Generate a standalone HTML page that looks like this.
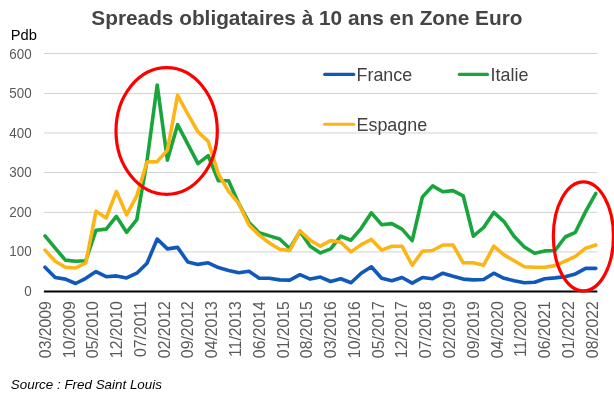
<!DOCTYPE html>
<html><head><meta charset="utf-8"><style>
html,body{margin:0;padding:0;background:#fff;}
svg{display:block;font-family:"Liberation Sans",Arial,sans-serif;}
</style></head><body>
<svg width="614" height="405" viewBox="0 0 614 405">
<rect width="614" height="405" fill="#fff"/>
<text transform="translate(306.90,24.80)" font-size="20.8" text-anchor="middle" font-weight="bold" fill="#444444">Spreads obligataires à 10 ans en Zone Euro</text>
<text transform="translate(10.80,39.80) scale(1.020,1)" font-size="14.4" text-anchor="start" fill="#000">Pdb</text>
<g stroke="#d2d2d2" stroke-width="1" fill="none">
<line x1="44" x2="597.3" y1="251.90" y2="251.90"/>
<line x1="44" x2="597.3" y1="212.40" y2="212.40"/>
<line x1="44" x2="597.3" y1="172.55" y2="172.55"/>
<line x1="44" x2="597.3" y1="132.95" y2="132.95"/>
<line x1="44" x2="597.3" y1="93.45" y2="93.45"/>
<line x1="44" x2="597.3" y1="53.50" y2="53.50"/>
</g>
<g fill="#595959">
<text transform="translate(31.60,296.00) scale(0.917,1)" font-size="14.6" text-anchor="end">0</text>
<text transform="translate(31.60,256.48) scale(0.917,1)" font-size="14.6" text-anchor="end">100</text>
<text transform="translate(31.60,216.96) scale(0.917,1)" font-size="14.6" text-anchor="end">200</text>
<text transform="translate(31.60,177.44) scale(0.917,1)" font-size="14.6" text-anchor="end">300</text>
<text transform="translate(31.60,137.92) scale(0.917,1)" font-size="14.6" text-anchor="end">400</text>
<text transform="translate(31.60,98.40) scale(0.917,1)" font-size="14.6" text-anchor="end">500</text>
<text transform="translate(31.60,58.88) scale(0.917,1)" font-size="14.6" text-anchor="end">600</text>
</g>
<g fill="none" stroke-width="3.6" stroke-linejoin="round" stroke-linecap="round">
<polyline stroke="#1058b9" points="45.0,267.2 55.2,277.5 65.4,279.1 75.6,283.5 85.8,278.3 96.0,271.6 106.2,276.7 116.4,275.9 126.6,277.9 136.8,273.2 147.0,263.2 157.2,239.0 167.4,248.9 177.6,247.4 187.8,262.0 198.0,264.4 208.2,262.8 218.4,267.6 228.6,270.4 238.8,272.8 249.0,271.2 259.2,278.3 269.4,278.3 279.6,279.9 289.8,280.1 300.0,274.7 310.2,279.1 320.4,277.1 330.6,281.5 340.8,278.7 351.0,282.7 361.2,273.2 371.4,266.8 381.6,278.3 391.8,280.7 402.0,277.5 412.2,283.1 422.4,277.5 432.6,278.7 442.8,273.2 453.0,276.3 463.2,279.1 473.4,279.9 483.6,279.5 493.8,273.2 504.0,278.3 514.2,280.7 524.4,282.7 534.6,282.3 544.8,278.7 555.0,277.9 565.2,276.7 575.4,273.9 585.6,268.4 595.8,268.4"/>
<polyline stroke="#17a53c" points="45.0,235.9 55.2,248.2 65.4,260.1 75.6,261.2 85.8,260.7 96.0,230.3 106.2,229.1 116.4,216.4 126.6,232.3 136.8,219.6 147.0,160.9 157.2,85.1 167.4,160.1 177.6,124.7 187.8,144.2 198.0,163.6 208.2,155.7 218.4,180.7 228.6,180.7 238.8,203.7 249.0,222.4 259.2,232.7 269.4,235.9 279.6,239.0 289.8,248.5 300.0,231.5 310.2,246.2 320.4,252.9 330.6,248.9 340.8,236.2 351.0,240.2 361.2,228.3 371.4,212.8 381.6,224.7 391.8,223.6 402.0,229.1 412.2,240.6 422.4,197.0 432.6,185.9 442.8,191.8 453.0,190.6 463.2,195.8 473.4,236.2 483.6,227.5 493.8,212.4 504.0,221.6 514.2,236.6 524.4,247.0 534.6,253.3 544.8,250.9 555.0,250.5 565.2,237.0 575.4,232.3 585.6,211.6 595.8,193.4"/>
<polyline stroke="#fdb515" points="45.0,250.1 55.2,261.2 65.4,267.2 75.6,268.0 85.8,262.8 96.0,211.2 106.2,218.0 116.4,191.4 126.6,214.8 136.8,195.8 147.0,162.0 157.2,161.6 167.4,150.1 177.6,95.4 187.8,114.0 198.0,131.9 208.2,141.4 218.4,174.0 228.6,191.4 238.8,203.7 249.0,225.1 259.2,235.1 269.4,243.0 279.6,249.3 289.8,250.5 300.0,230.7 310.2,240.2 320.4,246.2 330.6,240.6 340.8,242.2 351.0,251.9 361.2,244.6 371.4,239.4 381.6,250.1 391.8,246.2 402.0,246.2 412.2,265.2 422.4,251.3 432.6,250.5 442.8,245.0 453.0,245.0 463.2,262.8 473.4,262.8 483.6,265.2 493.8,246.2 504.0,254.9 514.2,260.8 524.4,266.8 534.6,267.2 544.8,267.2 555.0,265.6 565.2,261.2 575.4,256.3 585.6,248.2 595.8,245.0"/>
</g>
<line x1="43.9" x2="597.3" y1="291.55" y2="291.55" stroke="#000" stroke-width="2"/>
<g fill="#595959">
<text transform="translate(50.80,301.10) rotate(-90) scale(0.966,1)" font-size="16.35" text-anchor="end">03/2009</text>
<text transform="translate(74.58,301.10) rotate(-90) scale(0.966,1)" font-size="16.35" text-anchor="end">10/2009</text>
<text transform="translate(98.35,301.10) rotate(-90) scale(0.966,1)" font-size="16.35" text-anchor="end">05/2010</text>
<text transform="translate(122.12,301.10) rotate(-90) scale(0.966,1)" font-size="16.35" text-anchor="end">12/2010</text>
<text transform="translate(145.90,301.10) rotate(-90) scale(0.966,1)" font-size="16.35" text-anchor="end">07/2011</text>
<text transform="translate(169.67,301.10) rotate(-90) scale(0.966,1)" font-size="16.35" text-anchor="end">02/2012</text>
<text transform="translate(193.45,301.10) rotate(-90) scale(0.966,1)" font-size="16.35" text-anchor="end">09/2012</text>
<text transform="translate(217.22,301.10) rotate(-90) scale(0.966,1)" font-size="16.35" text-anchor="end">04/2013</text>
<text transform="translate(241.00,301.10) rotate(-90) scale(0.966,1)" font-size="16.35" text-anchor="end">11/2013</text>
<text transform="translate(264.77,301.10) rotate(-90) scale(0.966,1)" font-size="16.35" text-anchor="end">06/2014</text>
<text transform="translate(288.55,301.10) rotate(-90) scale(0.966,1)" font-size="16.35" text-anchor="end">01/2015</text>
<text transform="translate(312.32,301.10) rotate(-90) scale(0.966,1)" font-size="16.35" text-anchor="end">08/2015</text>
<text transform="translate(336.10,301.10) rotate(-90) scale(0.966,1)" font-size="16.35" text-anchor="end">03/2016</text>
<text transform="translate(359.88,301.10) rotate(-90) scale(0.966,1)" font-size="16.35" text-anchor="end">10/2016</text>
<text transform="translate(383.65,301.10) rotate(-90) scale(0.966,1)" font-size="16.35" text-anchor="end">05/2017</text>
<text transform="translate(407.43,301.10) rotate(-90) scale(0.966,1)" font-size="16.35" text-anchor="end">12/2017</text>
<text transform="translate(431.20,301.10) rotate(-90) scale(0.966,1)" font-size="16.35" text-anchor="end">07/2018</text>
<text transform="translate(454.97,301.10) rotate(-90) scale(0.966,1)" font-size="16.35" text-anchor="end">02/2019</text>
<text transform="translate(478.75,301.10) rotate(-90) scale(0.966,1)" font-size="16.35" text-anchor="end">09/2019</text>
<text transform="translate(502.52,301.10) rotate(-90) scale(0.966,1)" font-size="16.35" text-anchor="end">04/2020</text>
<text transform="translate(526.30,301.10) rotate(-90) scale(0.966,1)" font-size="16.35" text-anchor="end">11/2020</text>
<text transform="translate(550.08,301.10) rotate(-90) scale(0.966,1)" font-size="16.35" text-anchor="end">06/2021</text>
<text transform="translate(573.85,301.10) rotate(-90) scale(0.966,1)" font-size="16.35" text-anchor="end">01/2022</text>
<text transform="translate(597.62,301.10) rotate(-90) scale(0.966,1)" font-size="16.35" text-anchor="end">08/2022</text>
</g>
<g fill="none" stroke="#ff0000" stroke-width="3.2">
<ellipse cx="166.65" cy="131.0" rx="50.65" ry="63.4"/>
<ellipse cx="583.4" cy="236.35" rx="30.05" ry="54.45"/>
</g>
<g stroke-width="3.1" fill="none" stroke-linecap="round">
<line x1="324.7" x2="353.8" y1="74.4" y2="74.4" stroke="#1058b9"/>
<line x1="459.3" x2="487.5" y1="74.4" y2="74.4" stroke="#17a53c"/>
<line x1="324.7" x2="353.8" y1="124.3" y2="124.3" stroke="#fdb515"/>
</g>
<g fill="#404040">
<text transform="translate(356.50,80.70)" font-size="17.9" text-anchor="start">France</text>
<text transform="translate(490.60,80.70)" font-size="17.9" text-anchor="start">Italie</text>
<text transform="translate(356.50,130.70)" font-size="17.9" text-anchor="start">Espagne</text>
</g>
<text transform="translate(10.80,389.00)" font-size="13.4" text-anchor="start" font-style="italic" fill="#000">Source : Fred Saint Louis</text>
</svg>
</body></html>
